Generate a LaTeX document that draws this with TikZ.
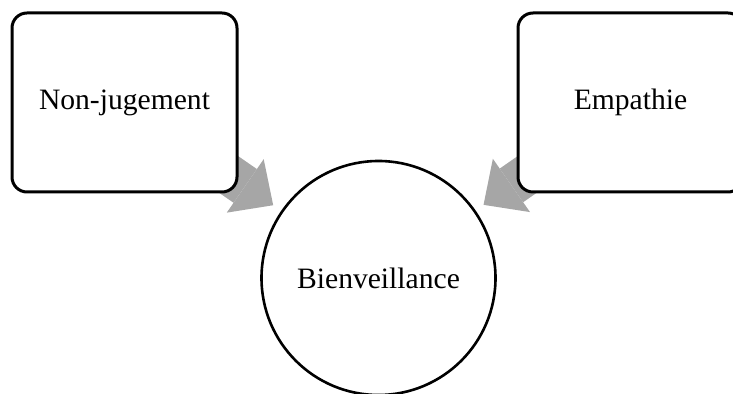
\documentclass[tikz,border=0pt]{standalone}
\usepackage{fontspec}
\setmainfont{Liberation Serif}
\usetikzlibrary{arrows.meta,calc,backgrounds}
\definecolor{arrowgray}{RGB}{166,166,166}
\tikzset{
  box/.style={draw=black, line width=1.5pt, fill=white, rounded corners=7.5pt,
    minimum width=112.5pt, minimum height=89.5pt, inner sep=0pt,
    font=\fontsize{14.8pt}{17pt}\selectfont},
  hub/.style={draw=black, line width=1.3pt, fill=white, circle, minimum size=117pt,
    inner sep=0pt, font=\fontsize{14.8pt}{17pt}\selectfont},
  blockarrow/.style={draw=arrowgray, line width=20.5pt,
    -{Triangle[length=17pt,width=32.5pt,line width=0pt,fill=arrowgray]}}
}
\begin{document}
\begin{tikzpicture}[x=0.5pt,y=-0.5pt]
\useasboundingbox (0,0) rectangle (733,394);
\node[box] (a) at (124.5,102.5) {Non-jugement};
\node[box] (b) at (630.5,102.5) {Empathie};
\node[hub] (c) at (378.5,278) {Bienveillance};
\begin{scope}[on background layer]
\draw[blockarrow] (a.center) -- ($(c.center)!64pt!(a.center)$);
\draw[blockarrow] (b.center) -- ($(c.center)!64pt!(b.center)$);
\end{scope}
\end{tikzpicture}
\end{document}
